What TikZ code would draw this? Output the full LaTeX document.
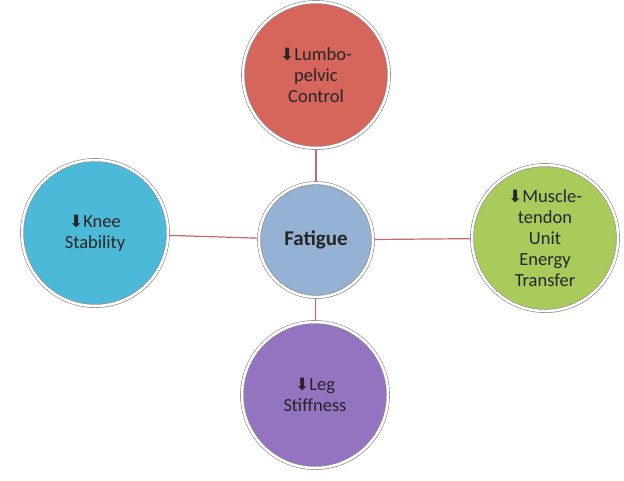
\documentclass[tikz,border=0pt]{standalone}
\usepackage{fontspec}
\setmainfont{Carlito}
\newfontfamily\arr{DejaVu Sans}
\usetikzlibrary{shadows}
\definecolor{cred}{HTML}{D6655C}
\definecolor{ccyan}{HTML}{4DB9D9}
\definecolor{cgreen}{HTML}{A8CB5B}
\definecolor{cpurp}{HTML}{9473C1}
\definecolor{cblue}{HTML}{95B1D3}
\definecolor{cline}{HTML}{C9686A}
\tikzset{
  bub/.style={circle, draw=black!45, double=white, double distance=2.5pt, line width=0.6pt,
     minimum size=#1, inner sep=0pt,
     align=center, font=\fontsize{18.5}{21}\selectfont, text=black!85,
     drop shadow={shadow xshift=1pt,shadow yshift=-2pt,opacity=0.3}},
  conn/.style={draw=cline, line width=1.2pt}
}
\newcommand{\dn}{{\arr\fontsize{17}{17}\selectfont ⬇}}
\begin{document}
\begin{tikzpicture}[x=1pt,y=-1pt]
\useasboundingbox (0,0) rectangle (624,480);
\fill[white] (0,0) rectangle (624,480);
\coordinate (cc) at (316,240);
\draw[conn] (316,75) -- (cc);
\draw[conn] (95,233) -- (cc);
\draw[conn] (545,238) -- (cc);
\draw[conn] (315,395) -- (cc);
\node[bub=114pt, fill=cblue, font=\bfseries\fontsize{21}{23}\selectfont] (f) at (cc) {Fatigue};
\node[bub=146pt, fill=cred] (t) at (316,75) {\dn Lumbo-\\pelvic\\Control};
\node[bub=146pt, fill=ccyan] (l) at (95,233) {\dn Knee\\Stability};
\node[bub=146pt, fill=cgreen] (r) at (545,238) {\dn Muscle-\\tendon\\Unit\\Energy\\Transfer};
\node[bub=146pt, fill=cpurp] (b) at (315,395) {\dn Leg\\Stiffness};
\end{tikzpicture}
\end{document}
